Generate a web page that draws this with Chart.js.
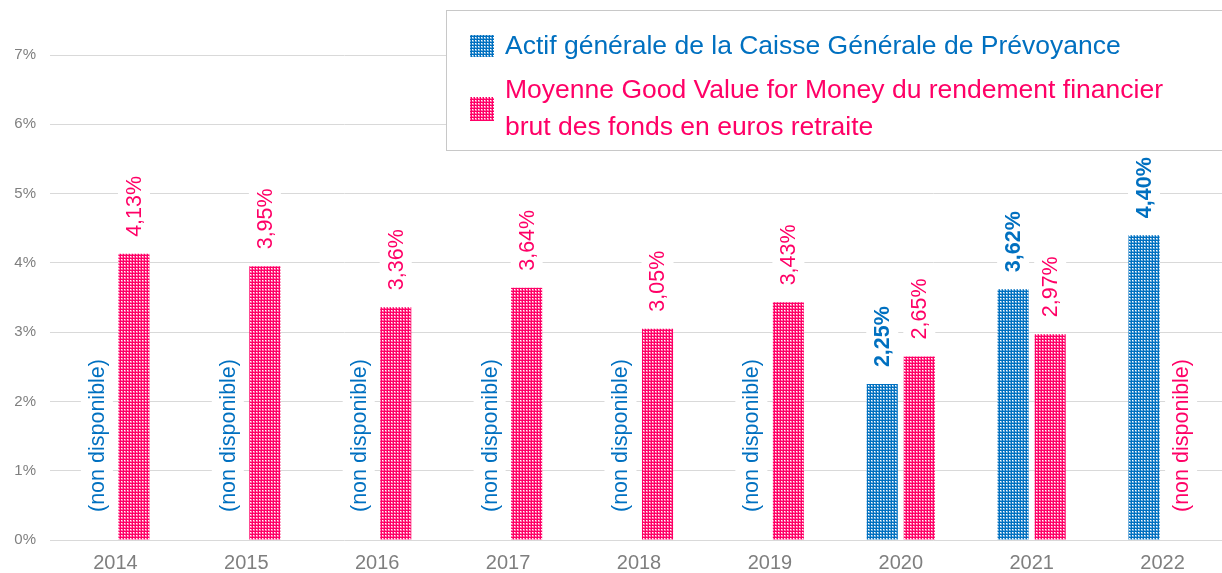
<!DOCTYPE html>
<html>
<head>
<meta charset="utf-8">
<script src="https://cdn.jsdelivr.net/npm/chart.js@4.4.0/dist/chart.umd.min.js"></script>
<style>
  html, body { margin: 0; padding: 0; overflow: hidden; background: #fff; }
  #wrap { width: 1228px; height: 573px; }
</style>
</head>
<body>
<div id="wrap"><canvas id="myChart" width="1228" height="573"></canvas></div>
<script>
var years = ['2014', '2015', '2016', '2017', '2018', '2019', '2020', '2021', '2022'];
var actifCGP = [null, null, null, null, null, null, 2.25, 3.62, 4.40];
var moyenneGVM = [4.13, 3.95, 3.36, 3.64, 3.05, 3.43, 2.65, 2.97, null];
var yTicks = [0, 1, 2, 3, 4, 5, 6, 7];
var seriesNames = [
  ['Actif générale de la Caisse Générale de Prévoyance'],
  ['Moyenne Good Value for Money du rendement financier', 'brut des fonds en euros retraite']
];

var BLUE = '#0070C0';
var PINK = '#FF0066';
var FONT = '"Liberation Sans", Arial, sans-serif';

var ctx = document.getElementById('myChart').getContext('2d');

// dotted fill like the office pattern
function makePattern(color) {
  var c = document.createElement('canvas');
  c.width = 3; c.height = 3;
  var p = c.getContext('2d');
  p.fillStyle = color;
  p.fillRect(0, 0, 3, 3);
  p.fillStyle = 'rgba(255,255,255,0.45)';
  p.fillRect(1, 1, 2, 2);
  p.fillStyle = '#ffffff';
  p.fillRect(1, 1, 1, 1);
  return ctx.createPattern(c, 'repeat');
}

var bluePattern = makePattern(BLUE);
var pinkPattern = makePattern(PINK);

// value labels + "(non disponible)"
var barLabels = {
  id: 'barLabels',
  afterDatasetsDraw: function (chart) {
    var c = chart.ctx;
    var zero = chart.scales.y.getPixelForValue(0);
    chart.data.datasets.forEach(function (ds, i) {
      var meta = chart.getDatasetMeta(i);
      meta.data.forEach(function (bar, j) {
        var v = ds.data[j];
        var text, y0, font;
        if (v == null) {
          text = '(non disponible)';
          y0 = zero - 28;
          font = '21.5px ' + FONT;
        } else {
          text = v.toFixed(2).replace('.', ',') + '%';
          y0 = bar.y - 17;
          font = (i === 0 ? 'bold ' : '') + '21.5px ' + FONT;
        }
        c.save();
        c.translate(bar.x, y0);
        c.rotate(-Math.PI / 2);
        c.font = font;
        var w = c.measureText(text).width;
        c.fillStyle = '#ffffff';
        c.fillRect(-3, -16, w + 6, 32);
        c.fillStyle = ds.labelColor;
        c.textAlign = 'left';
        c.textBaseline = 'middle';
        c.fillText(text, 0, 1);
        c.restore();
      });
    });
  }
};

// boxed legend at top right
var boxLegend = {
  id: 'boxLegend',
  afterDraw: function (chart) {
    var c = chart.ctx;
    c.save();
    c.fillStyle = '#ffffff';
    c.fillRect(446, 10, 800, 141);
    c.strokeStyle = '#c8c8c8';
    c.lineWidth = 1;
    c.strokeRect(446.5, 10.5, 800, 140);

    c.fillStyle = bluePattern;
    c.fillRect(470, 35, 24, 22);
    c.fillStyle = pinkPattern;
    c.fillRect(470, 97, 24, 24);

    c.font = '26.5px ' + FONT;
    c.textAlign = 'left';
    c.textBaseline = 'middle';
    c.fillStyle = BLUE;
    c.fillText(seriesNames[0][0], 505, 47);
    c.fillStyle = PINK;
    c.fillText(seriesNames[1][0], 505, 91);
    c.fillText(seriesNames[1][1], 505, 128);
    c.restore();
  }
};

var myChart = new Chart(ctx, {
  type: 'bar',
  data: {
    labels: years,
    datasets: [{
      label: seriesNames[0].join(' '),
      data: actifCGP,
      backgroundColor: bluePattern,
      labelColor: BLUE
    }, {
      label: seriesNames[1].join(' '),
      data: moyenneGVM,
      backgroundColor: pinkPattern,
      labelColor: PINK
    }]
  },
  options: {
    responsive: false,
    animation: false,
    devicePixelRatio: 1,
    barPercentage: 0.84,
    categoryPercentage: 0.566,
    layout: { padding: { top: 55, right: 0, left: 0, bottom: 0 } },
    plugins: {
      legend: { display: false },
      tooltip: { enabled: false }
    },
    scales: {
      x: {
        grid: { display: false },
        border: { display: false },
        ticks: {
          color: '#7f7f7f',
          font: { family: FONT, size: 20 },
          padding: 3
        },
        afterFit: function (scale) { scale.height = 33; }
      },
      y: {
        min: 0,
        max: 7,
        afterBuildTicks: function (scale) {
          scale.ticks = yTicks.map(function (v) { return { value: v }; });
        },
        grid: { color: '#d9d9d9', lineWidth: 1, drawTicks: false },
        border: { display: false },
        ticks: {
          color: '#7f7f7f',
          font: { family: FONT, size: 15 },
          padding: 14,
          callback: function (v) { return v + '%'; }
        },
        afterFit: function (scale) { scale.width = 50; }
      }
    }
  },
  plugins: [barLabels, boxLegend]
});
</script>
</body>
</html>
